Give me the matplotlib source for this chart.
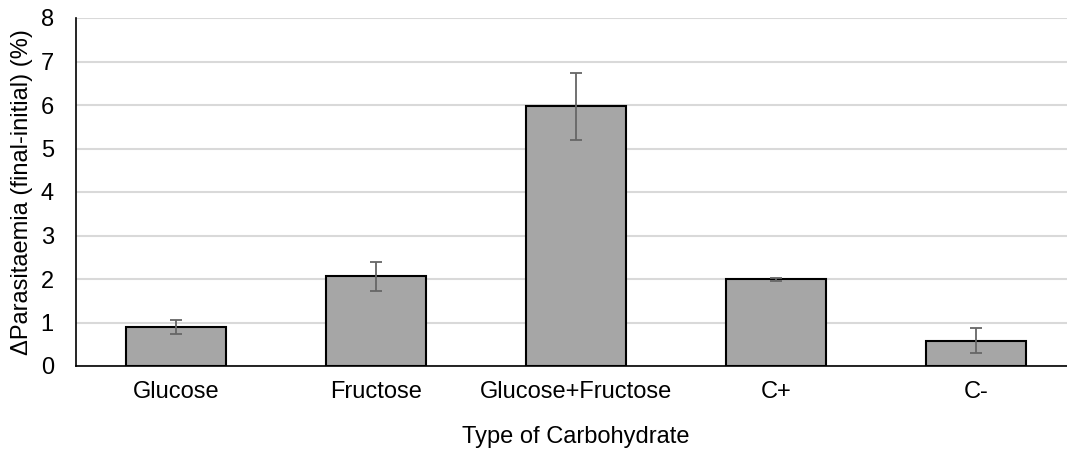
import numpy as np
import matplotlib.pyplot as plt

plt.rcParams['font.family'] = ['Liberation Sans', 'DejaVu Sans']

categories = ['Glucose', 'Fructose', 'Glucose+Fructose', 'C+', 'C-']
delta_parasitaemia = [0.89, 2.06, 5.97, 1.99, 0.58]
std_err = [0.16, 0.34, 0.77, 0.03, 0.29]
y_ticks = [0, 1, 2, 3, 4, 5, 6, 7, 8]

W, H = 1067, 450
fig = plt.figure(figsize=(W / 100, H / 100), dpi=100)
# plot area: left edge at 76px, 200px per category band
ax = fig.add_axes([76 / W, (H - 366) / H, 1000 / W, (366 - 18) / H])

x = np.arange(len(categories))
ax.bar(x, delta_parasitaemia, width=0.5, color='#a6a6a6',
       edgecolor='black', linewidth=1.5, zorder=3)
ax.errorbar(x, delta_parasitaemia, yerr=std_err, fmt='none',
            ecolor='#666666', elinewidth=1.3, capsize=4.5, capthick=1.3,
            zorder=4)

ax.set_xlim(-0.5, 4.5)
ax.set_ylim(0, 8)
ax.set_yticks(y_ticks)
ax.set_xticks(x)
ax.set_xticklabels(categories)
ax.tick_params(axis='both', length=0, labelsize=17)
ax.tick_params(axis='y', pad=16)
ax.tick_params(axis='x', pad=11)

ax.yaxis.grid(True, color='#d9d9d9', linewidth=1.5, zorder=0)
ax.set_axisbelow(True)
for side in ['top', 'right']:
    ax.spines[side].set_visible(False)
ax.spines['left'].set_linewidth(1.2)
ax.spines['bottom'].set_linewidth(1.2)

fig.text(576 / W, 1 - 443 / H, 'Type of Carbohydrate', fontsize=17,
         ha='center', va='baseline')
fig.text(22 / W, 1 - 192 / H, '\u0394Parasitaemia (final-initial) (%)',
         fontsize=17, rotation=90, ha='center', va='center')

fig.savefig('out.png', dpi=100)
